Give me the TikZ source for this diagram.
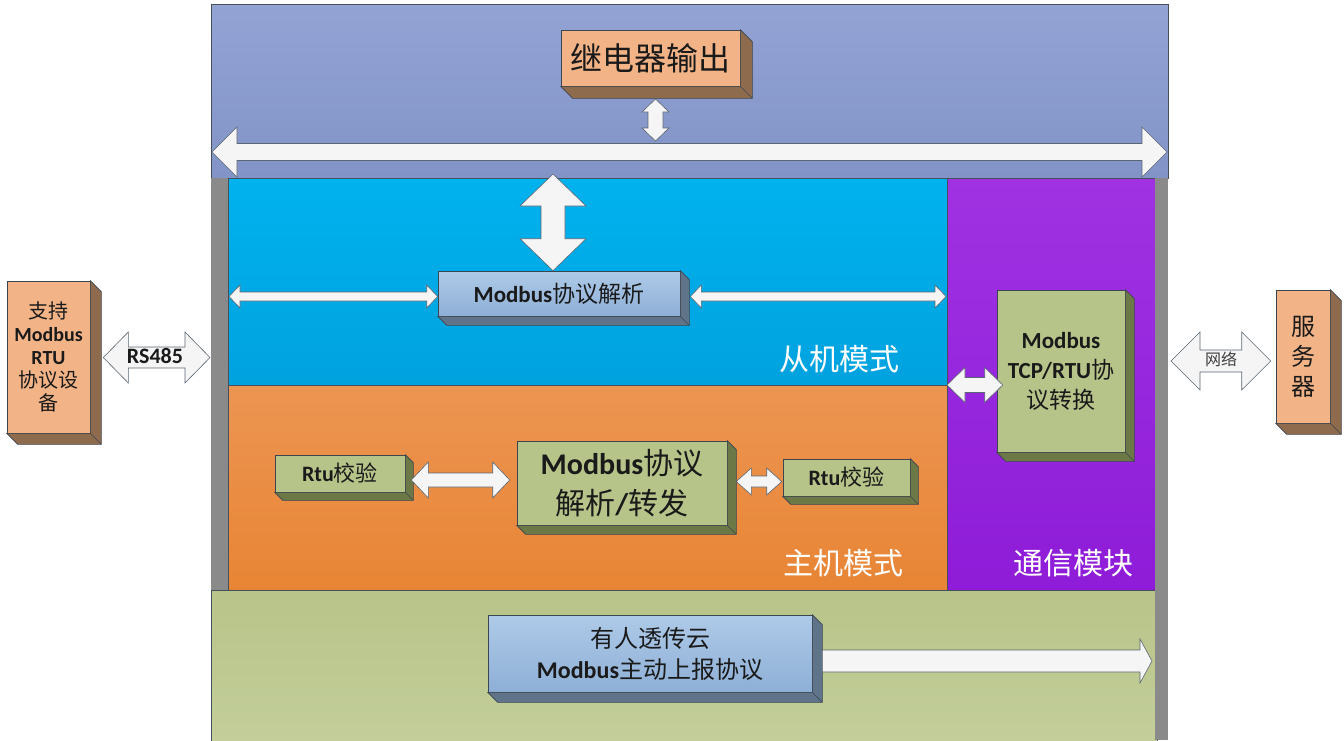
\documentclass[tikz,border=0pt]{standalone}
\usepackage{fontspec}
\setmainfont{Carlito}
\newfontfamily\cjk{Noto Sans CJK SC}
\usetikzlibrary{calc}

\definecolor{bandtop}{HTML}{93A3D4}
\definecolor{bandbot}{HTML}{8293C7}
\definecolor{cyantop}{HTML}{00B2EE}
\definecolor{cyanbot}{HTML}{00A2DE}
\definecolor{orangetop}{HTML}{EC9552}
\definecolor{orangebot}{HTML}{E88535}
\definecolor{purpletop}{HTML}{A032E2}
\definecolor{purplebot}{HTML}{8E1CD8}
\definecolor{greentop}{HTML}{B8C489}
\definecolor{greenbot}{HTML}{C3CE9A}
\definecolor{bargray}{HTML}{8A8A8A}
\definecolor{frameline}{HTML}{46505A}
\definecolor{boxline}{HTML}{3C4650}
\definecolor{peach}{HTML}{F2B387}
\definecolor{peachside}{HTML}{8E6B4D}
\definecolor{bluetop}{HTML}{AECAE8}
\definecolor{bluebot}{HTML}{8EAFD6}
\definecolor{blueside}{HTML}{5F7389}
\definecolor{olive}{HTML}{B6C389}
\definecolor{oliveside}{HTML}{6C7845}
\definecolor{arrowfill}{HTML}{F5F5F5}
\definecolor{arrowline}{HTML}{5A6672}
\definecolor{ink}{HTML}{1A1A1A}

\newcommand{\zh}[1]{{\cjk #1}}
% 3d side of a box
\newcommand{\extrude}[3]{%
  \draw[fill=#3, draw=boxline, line width=0.6pt] (#1.north east) -- ++(#2,#2)
    -- ([shift={(#2,#2)}]#1.south east) -- ([shift={(#2,#2)}]#1.south west)
    -- (#1.south west) -- (#1.south east) -- cycle;
  \draw[boxline, line width=0.4pt] (#1.south east) -- ++(#2,#2);}
% double block arrows: from, to, shaft half, head half, head length
\newcommand{\hdarrow}[5]{%
  \draw[blockarrow] let \p1=(#1), \p2=(#2) in
    (\x1,\y1) -- (\x1+#5,\y1+#4) -- (\x1+#5,\y1+#3) -- (\x2-#5,\y1+#3)
    -- (\x2-#5,\y1+#4) -- (\x2,\y1) -- (\x2-#5,\y1-#4) -- (\x2-#5,\y1-#3)
    -- (\x1+#5,\y1-#3) -- (\x1+#5,\y1-#4) -- cycle;}
\newcommand{\vdarrow}[5]{%
  \draw[blockarrow] let \p1=(#1), \p2=(#2) in
    (\x1,\y1) -- (\x1+#4,\y1-#5) -- (\x1+#3,\y1-#5) -- (\x1+#3,\y2+#5)
    -- (\x1+#4,\y2+#5) -- (\x1,\y2) -- (\x1-#4,\y2+#5) -- (\x1-#3,\y2+#5)
    -- (\x1-#3,\y1-#5) -- (\x1-#4,\y1-#5) -- cycle;}
\newcommand{\hsarrow}[5]{%
  \draw[blockarrow] let \p1=(#1), \p2=(#2) in
    (\x1,\y1+#3) -- (\x2-#5,\y1+#3) -- (\x2-#5,\y1+#4) -- (\x2,\y1)
    -- (\x2-#5,\y1-#4) -- (\x2-#5,\y1-#3) -- (\x1,\y1-#3) -- cycle;}

\tikzset{
  box/.style={draw=boxline, line width=0.6pt, inner sep=0pt, align=center, text=ink},
  peachbox/.style={box, fill=peach},
  bluebox/.style={box, top color=bluetop, bottom color=bluebot},
  olivebox/.style={box, fill=olive},
  blockarrow/.style={draw=arrowline, line width=0.6pt, fill=arrowfill},
  region/.style={draw=frameline, line width=0.6pt},
  modelabel/.style={text=white, anchor=east, font=\cjk\fontsize{30}{30}\selectfont}
}

\begin{document}
\begin{tikzpicture}[x=1pt,y=-1pt]
\useasboundingbox (0,0) rectangle (1344,740);
% regions
\draw[region, top color=bandtop, bottom color=bandbot] (211,4) rectangle (1168,178);
\draw[region, top color=cyantop, bottom color=cyanbot] (228,178) rectangle (947,385);
\draw[region, top color=orangetop, bottom color=orangebot] (228,385) rectangle (947,590);
\draw[region, top color=purpletop, bottom color=purplebot] (947,178) rectangle (1155,590);
\draw[region, top color=greentop, bottom color=greenbot] (211,590) rectangle (1157,744);
\fill[bargray] (211,178) rectangle (228,590);
\fill[bargray] (1155,178) rectangle (1168,740);

\node[modelabel] (slave) at (903,359) {从机模式};
\node[modelabel] (master) at (907,563) {主机模式};
\node[modelabel] (comm) at (1137,563) {通信模块};

% boxes
\node[peachbox, minimum width=179pt, minimum height=56pt, font=\cjk\fontsize{32}{32}\selectfont] (relay) at (650.5,58) {继电器输出};
\extrude{relay}{12}{peachside}
\node[bluebox, minimum width=242pt, minimum height=45pt, font=\fontsize{23}{23}\selectfont] (parse) at (559,293.5) {\textbf{Modbus}\zh{协议解析}};
\extrude{parse}{9}{blueside}
\node[olivebox, minimum width=128pt, minimum height=162pt, font=\fontsize{23}{30}\selectfont] (conv) at (1061,371) {\textbf{Modbus}\\\textbf{TCP/RTU}\zh{协}\\\zh{议转换}};
\extrude{conv}{9}{oliveside}
\node[olivebox, minimum width=130pt, minimum height=37pt, font=\fontsize{22}{22}\selectfont] (rtuL) at (340,473.5) {\textbf{Rtu}\zh{校验}};
\extrude{rtuL}{8}{oliveside}
\node[olivebox, minimum width=210pt, minimum height=84pt, font=\fontsize{30}{40}\selectfont] (fwd) at (622,483) {\textbf{Modbus}\zh{协议}\\\zh{解析}\textbf{/}\zh{转发}};
\extrude{fwd}{9}{oliveside}
\node[olivebox, minimum width=127pt, minimum height=37pt, font=\fontsize{22}{22}\selectfont] (rtuR) at (846.5,477.5) {\textbf{Rtu}\zh{校验}};
\extrude{rtuR}{8}{oliveside}
\node[bluebox, minimum width=324pt, minimum height=77pt, font=\fontsize{24}{31}\selectfont] (cloud) at (650,653.5) {\zh{有人透传云}\\\textbf{Modbus}\zh{主动上报协议}};
\extrude{cloud}{10}{blueside}
\node[peachbox, minimum width=83pt, minimum height=152pt, font=\fontsize{20}{23}\selectfont] (device) at (48.5,357) {\zh{支持}\\\textbf{Modbus}\\\textbf{RTU}\\\zh{协议设}\\\zh{备}};
\extrude{device}{11}{peachside}
\node[peachbox, minimum width=54pt, minimum height=133pt, font=\cjk\fontsize{24}{30}\selectfont] (server) at (1303,356.5) {服\\务\\器};
\extrude{server}{11}{peachside}

% free ends
\coordinate (busL) at (212,152);
\coordinate (busR) at (1167,152);
\coordinate (relayio) at (655.5,99);
\coordinate (busio) at (655.5,141);
\coordinate (busC) at (553,174);
\coordinate (cyanL) at (229,296.5);
\coordinate (cyanR) at (946,296.5);
\coordinate (modeR) at (947,385);
\coordinate (netL) at (1171,361);
\coordinate (frameL) at (210,357.5);
\coordinate (upR) at (1152,661);

% connectors
\hdarrow{busL}{busR}{8.5pt}{25pt}{25pt}
\vdarrow{relayio}{busio}{7.5pt}{13.5pt}{13pt}
\vdarrow{busC}{parse.north}{12pt}{33pt}{32pt}
\hdarrow{cyanL}{parse.west}{4.5pt}{11.5pt}{11pt}
\hdarrow{[xshift=10pt]parse.east |- cyanR}{cyanR}{4.5pt}{11.5pt}{11pt}
\hdarrow{modeR}{[xshift=6pt]conv.west |- modeR}{7.5pt}{17.5pt}{18pt}
\hdarrow{netL}{[xshift=-5pt]server.west |- netL}{11pt}{29pt}{29pt}
\hdarrow{[xshift=13pt]device.east |- frameL}{frameL}{10.5pt}{25.5pt}{25pt}
\hdarrow{[xshift=6pt]rtuL.east |- 0,480}{[xshift=-7pt]fwd.west}{7pt}{18pt}{17pt}
\hdarrow{[xshift=9pt]fwd.east |- 0,481.5}{[xshift=-1pt]rtuR.west}{5.5pt}{13.5pt}{15pt}
\hsarrow{[xshift=10pt]cloud.east |- upR}{upR}{11pt}{22pt}{12pt}

\node[font=\bfseries\fontsize{22}{22}\selectfont, text=ink] (rs) at (155,356) {RS485};
\node[font=\cjk\fontsize{16}{16}\selectfont, text=black!75] (net) at (1221,359) {网络};
\end{tikzpicture}
\end{document}
